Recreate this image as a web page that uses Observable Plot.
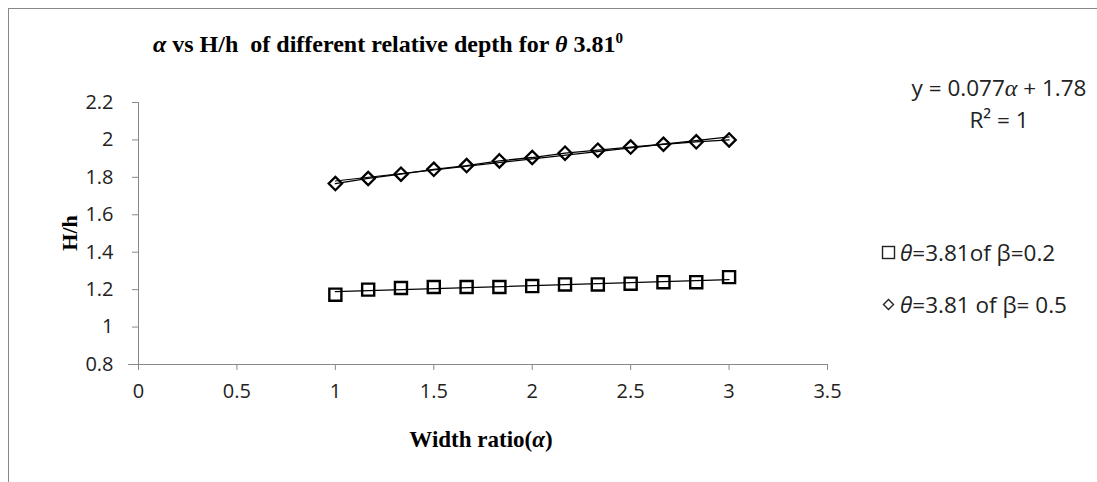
<!DOCTYPE html>
<html>
<head>
<meta charset="utf-8">
<script src="https://cdn.jsdelivr.net/npm/d3@7"></script>
<script src="https://cdn.jsdelivr.net/npm/@observablehq/plot@0.6"></script>
<style>
  html, body { margin: 0; padding: 0; background: #fff; }
  #wrap { position: relative; width: 1097px; height: 482px; overflow: hidden; }
  #frame { position: absolute; left: 8px; top: 8px; width: 1200px; height: 600px;
           border-left: 1px solid #888; border-top: 1px solid #888; }
  .serif { font-family: "Liberation Serif", "Times New Roman", serif; font-weight: bold; color: #000; }
  .sans { font-family: "Open Sans", "Noto Sans", sans-serif; color: #222; }
  #title { position: absolute; left: 153px; top: 30px; font-size: 24px; white-space: nowrap; }
  #ylab { position: absolute; left: 70px; top: 233px; font-size: 22px; transform: translate(-50%, -50%) rotate(-90deg); white-space: nowrap; }
  #xlab { position: absolute; left: 481px; top: 440px; font-size: 23px; transform: translate(-50%, -50%); white-space: nowrap; }
  #eq { position: absolute; left: 999px; top: 72px; font-size: 22.5px; text-align: center; transform: translateX(-50%); line-height: 31px; white-space: nowrap; }
  .leg { position: absolute; left: 881px; font-size: 22.5px; white-space: nowrap; display: flex; align-items: center; }
  .leg svg { margin-right: 4px; }
  #chart svg { position: absolute; left: 0; top: 0; }
  #chart svg text { font-size: 20px; fill: #222; }
</style>
</head>
<body>
<div id="wrap">
  <div id="frame"></div>
  <div id="chart"></div>
  <div id="title" class="serif"><i>α</i> vs H/h &nbsp;of different relative depth for <i>θ</i> 3.81<sup style="font-size:15px">0</sup></div>
  <div id="ylab" class="serif">H/h</div>
  <div id="xlab" class="serif">Width ratio(<i>α</i>)</div>
  <div id="eq" class="sans">y = 0.077<i style="font-family:'Liberation Serif',serif;font-size:24px">α</i> + 1.78<br>R² = 1</div>
  <div class="leg sans" style="top:237px"><svg width="15" height="15"><rect x="1.5" y="1.5" width="12" height="12" fill="none" stroke="#222" stroke-width="1.4"/></svg><span><i>θ</i>=3.81of β=0.2</span></div>
  <div class="leg sans" style="top:289px"><svg width="15" height="15"><path d="M7.5 2.5 L12.5 7.5 L7.5 12.5 L2.5 7.5 Z" fill="none" stroke="#222" stroke-width="1.4"/></svg><span><i>θ</i>=3.81 of β= 0.5</span></div>
</div>
<script>
// Width ratio α values
const alpha = [1, 1.1667, 1.3333, 1.5, 1.6667, 1.8333, 2, 2.1667, 2.3333, 2.5, 2.6667, 2.8333, 3];
// H/h for β = 0.2
const hBeta02 = [1.173, 1.2, 1.209, 1.214, 1.214, 1.214, 1.219, 1.228, 1.228, 1.232, 1.24, 1.24, 1.267];
// H/h for β = 0.5
const hBeta05 = [1.767, 1.794, 1.817, 1.843, 1.863, 1.888, 1.906, 1.929, 1.945, 1.962, 1.977, 1.99, 2.0];
const xTicks = [0, 0.5, 1, 1.5, 2, 2.5, 3, 3.5];
const yTicks = [0.8, 1, 1.2, 1.4, 1.6, 1.8, 2, 2.2];

const s02 = alpha.map((a, i) => ({a, h: hBeta02[i]}));
const s05 = alpha.map((a, i) => ({a, h: hBeta05[i]}));

const chart = Plot.plot({
  width: 1097,
  height: 482,
  marginLeft: 138,
  marginRight: 270,
  marginTop: 102,
  marginBottom: 118,
  style: {fontFamily: "'Open Sans', 'Noto Sans', sans-serif", fontSize: "20px", color: "#222", background: "transparent"},
  x: {domain: [0, 3.5], ticks: xTicks, tickFormat: d => String(d)},
  y: {domain: [0.8, 2.2], ticks: yTicks, tickFormat: d => String(d)},
  marks: [
    Plot.ruleX([0], {stroke: "#888"}),
    Plot.ruleY([0.8], {stroke: "#888", x1: -0.05, x2: 3.5}),
    Plot.axisY({ticks: yTicks, tickFormat: d => String(d), tickSize: 6, tickPadding: 19, stroke: "#888", label: null, fontSize: 20}),
    Plot.axisX({ticks: xTicks, tickFormat: d => String(d), tickSize: 6, tickPadding: 13, stroke: "#888", label: null, fontSize: 20}),
    Plot.linearRegressionY(s02, {x: "a", y: "h", stroke: "#000", strokeWidth: 1.2, ci: 0}),
    Plot.linearRegressionY(s05, {x: "a", y: "h", stroke: "#000", strokeWidth: 1.2, ci: 0}),
    Plot.line(s05, {x: "a", y: "h", stroke: "#000", strokeWidth: 1.3}),
    Plot.dot(s02, {x: "a", y: "h", symbol: "square", r: 6.8, fill: "none", stroke: "#000", strokeWidth: 2.4}),
    Plot.dot(s05, {x: "a", y: "h", symbol: "diamond2", r: 6, fill: "none", stroke: "#000", strokeWidth: 2.3})
  ]
});
document.getElementById("chart").appendChild(chart);
</script>
</body>
</html>
